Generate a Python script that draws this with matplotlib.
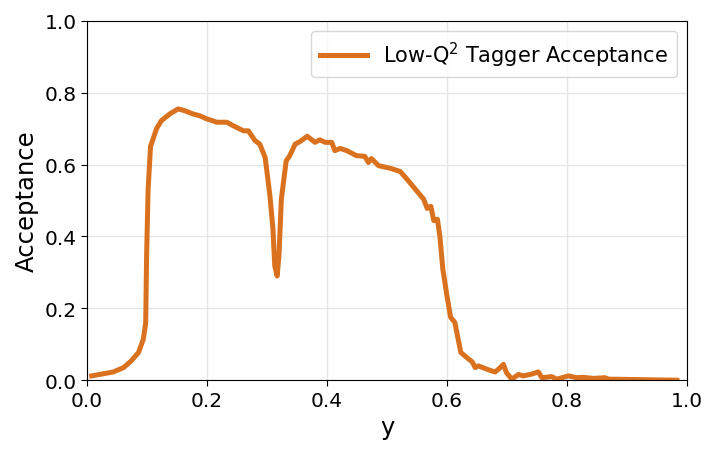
import matplotlib
matplotlib.use("Agg")
import matplotlib.pyplot as plt

y_vals = [0.008, 0.044, 0.061, 0.074, 0.086, 0.094, 0.098, 0.0995, 0.102, 0.106, 0.116, 0.124,
          0.138, 0.152, 0.163, 0.177, 0.188, 0.20, 0.21, 0.216, 0.233, 0.244, 0.261, 0.269, 0.28,
          0.288, 0.297, 0.305, 0.31, 0.313, 0.317, 0.32, 0.324, 0.332, 0.338, 0.347, 0.355, 0.367,
          0.38, 0.388, 0.397, 0.408, 0.413, 0.422, 0.433, 0.449, 0.463, 0.469, 0.474, 0.486,
          0.505, 0.522, 0.533, 0.547, 0.561, 0.567, 0.573, 0.578, 0.584, 0.588, 0.593, 0.599,
          0.606, 0.613, 0.623, 0.633, 0.642, 0.647, 0.652, 0.669, 0.68, 0.686, 0.694, 0.699,
          0.708, 0.719, 0.727, 0.741, 0.752, 0.758, 0.774, 0.783, 0.802, 0.816, 0.827, 0.844,
          0.863, 0.869, 0.983]
acceptance = [0.012, 0.023, 0.035, 0.054, 0.077, 0.114, 0.16, 0.346, 0.53, 0.65, 0.70, 0.722,
              0.741, 0.755, 0.75, 0.741, 0.736, 0.727, 0.722, 0.718, 0.718, 0.708, 0.694, 0.694,
              0.667, 0.657, 0.62, 0.513, 0.42, 0.318, 0.29, 0.346, 0.504, 0.61, 0.625, 0.657,
              0.664, 0.679, 0.662, 0.669, 0.662, 0.662, 0.639, 0.645, 0.639, 0.625, 0.623, 0.606,
              0.617, 0.597, 0.59, 0.581, 0.56, 0.532, 0.504, 0.478, 0.484, 0.444, 0.448, 0.402,
              0.309, 0.244, 0.175, 0.161, 0.077, 0.063, 0.051, 0.035, 0.04, 0.029, 0.023, 0.031,
              0.044, 0.021, 0.003, 0.016, 0.012, 0.017, 0.023, 0.007, 0.01, 0.003, 0.012, 0.007,
              0.008, 0.005, 0.007, 0.003, 0.0]

fig = plt.figure(figsize=(7.18, 4.56), dpi=100)
ax = fig.add_axes([0.121, 0.164, 0.836, 0.788])
ax.plot(y_vals, acceptance, color='#d9711e', lw=3.6, label='Low-Q$^2$ Tagger Acceptance')
ax.set_xlim(0, 1)
ax.set_ylim(0, 1)
ax.set_xticks([0, 0.2, 0.4, 0.6, 0.8, 1.0])
ax.set_yticks([0, 0.2, 0.4, 0.6, 0.8, 1.0])
ax.tick_params(labelsize=14.5, length=4)
ax.grid(True, color='#e6e6e6', lw=1)
ax.set_axisbelow(True)
ax.set_xlabel('y', fontsize=17.5)
ax.set_ylabel('Acceptance', fontsize=17.5)
ax.legend(loc='upper right', fontsize=15, handlelength=2.25)
fig.savefig('out.png', dpi=100)
